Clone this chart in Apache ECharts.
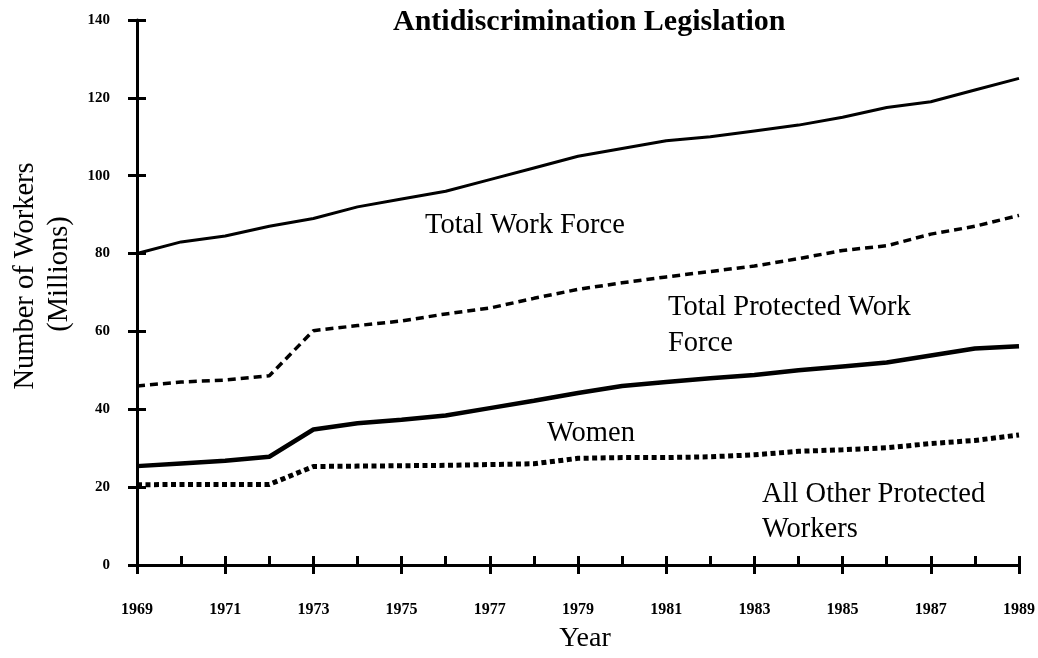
<!DOCTYPE html>
<html>
<head>
<meta charset="utf-8">
<script src="https://cdn.jsdelivr.net/npm/echarts@6/dist/echarts.min.js"></script>
<style>
  html, body { margin: 0; padding: 0; background: #fff; }
  #chart { width: 1038px; height: 658px; }
</style>
</head>
<body>
<div id="chart"></div>
<script>
var years = ['1969','1970','1971','1972','1973','1974','1975','1976','1977','1978','1979',
             '1980','1981','1982','1983','1984','1985','1986','1987','1988','1989'];
var totalWorkForce = [80, 83, 84.5, 87, 89, 92, 94, 96, 99, 102, 105,
                      107, 109, 110, 111.5, 113, 115, 117.5, 119, 122, 125];
var totalProtected = [46, 47, 47.5, 48.6, 60.2, 61.5, 62.7, 64.5, 66, 68.5, 70.8,
                      72.5, 74, 75.4, 76.8, 78.7, 80.8, 82, 85, 87, 89.8];
var women = [25.4, 26.1, 26.8, 27.8, 34.8, 36.4, 37.3, 38.4, 40.3, 42.2, 44.2,
             46, 47, 48, 48.8, 50, 51, 52, 53.8, 55.6, 56.2];
var allOther = [20.6, 20.7, 20.7, 20.7, 25.3, 25.4, 25.5, 25.6, 25.8, 26, 27.4,
                27.6, 27.6, 27.8, 28.3, 29.2, 29.6, 30.1, 31.2, 32, 33.4];

var serif = '"Liberation Serif", "DejaVu Serif", serif';
var myChart = echarts.init(document.getElementById('chart'));

var tickLine = { show: true, length: 9, lineStyle: { color: '#000', width: 3 } };
var tickInside = { show: true, inside: true, length: 9, lineStyle: { color: '#000', width: 3 } };
var noteFont = '28.5px ' + serif;

option = {
    backgroundColor: '#fff',
    animation: false,
    title: {
        text: 'Antidiscrimination Legislation',
        left: 388,
        top: 2,
        textStyle: { fontFamily: serif, fontWeight: 'bold', fontSize: 30, color: '#000' }
    },
    grid: { left: 137, right: 13, top: 20, bottom: 73 },
    xAxis: [
        {
            type: 'category',
            data: years,
            boundaryGap: false,
            axisLine: { lineStyle: { color: '#000', width: 3 } },
            axisTick: tickLine,
            axisLabel: {
                interval: 1,
                margin: 37,
                fontFamily: serif, fontWeight: 'bold', fontSize: 16, color: '#000'
            },
            splitLine: { show: false },
            name: 'Year',
            nameLocation: 'middle',
            nameGap: 60,
            nameTextStyle: { fontFamily: serif, fontSize: 28, color: '#000', padding: [0, 0, 0, 14] }
        },
        {
            type: 'category',
            data: years,
            boundaryGap: false,
            position: 'bottom',
            offset: 0,
            axisLine: { show: false },
            axisTick: tickInside,
            axisLabel: { show: false },
            splitLine: { show: false }
        }
    ],
    yAxis: [
        {
            type: 'value',
            min: 0,
            max: 140,
            interval: 20,
            axisLine: { show: true, lineStyle: { color: '#000', width: 3 } },
            axisTick: tickLine,
            axisLabel: {
                margin: 27,
                fontFamily: serif, fontWeight: 'bold', fontSize: 15, color: '#000'
            },
            splitLine: { show: false }
        },
        {
            type: 'value',
            min: 0,
            max: 140,
            interval: 20,
            position: 'left',
            offset: 0,
            axisLine: { show: false },
            axisTick: tickInside,
            axisLabel: { show: false },
            splitLine: { show: false }
        }
    ],
    graphic: [
        { type: 'text', rotation: Math.PI / 2, x: 26, y: 276,
          style: { text: 'Number of Workers', font: '28.5px ' + serif, fill: '#000', align: 'center', verticalAlign: 'middle' } },
        { type: 'text', rotation: Math.PI / 2, x: 60, y: 274,
          style: { text: '(Millions)', font: '28.5px ' + serif, fill: '#000', align: 'center', verticalAlign: 'middle' } },
        { type: 'text', x: 425, y: 226,
          style: { text: 'Total Work Force', font: noteFont, fill: '#000', verticalAlign: 'middle' } },
        { type: 'text', x: 668, y: 308,
          style: { text: 'Total Protected Work', font: noteFont, fill: '#000', verticalAlign: 'middle' } },
        { type: 'text', x: 668, y: 344,
          style: { text: 'Force', font: noteFont, fill: '#000', verticalAlign: 'middle' } },
        { type: 'text', x: 547, y: 434,
          style: { text: 'Women', font: noteFont, fill: '#000', verticalAlign: 'middle' } },
        { type: 'text', x: 762, y: 495,
          style: { text: 'All Other Protected', font: noteFont, fill: '#000', verticalAlign: 'middle' } },
        { type: 'text', x: 762, y: 530,
          style: { text: 'Workers', font: noteFont, fill: '#000', verticalAlign: 'middle' } }
    ],
    series: [
        {
            name: 'Total Work Force',
            type: 'line',
            data: totalWorkForce,
            symbol: 'none',
            lineStyle: { color: '#000', width: 3 }
        },
        {
            name: 'Total Protected Work Force',
            type: 'line',
            data: totalProtected,
            symbol: 'none',
            lineStyle: { color: '#000', width: 3.5, type: [8, 5] }
        },
        {
            name: 'Women',
            type: 'line',
            data: women,
            symbol: 'none',
            lineStyle: { color: '#000', width: 4.5 }
        },
        {
            name: 'All Other Protected Workers',
            type: 'line',
            data: allOther,
            symbol: 'none',
            lineStyle: { color: '#000', width: 5, type: [5, 3.5] }
        }
    ]
};
myChart.setOption(option);
</script>
</body>
</html>
